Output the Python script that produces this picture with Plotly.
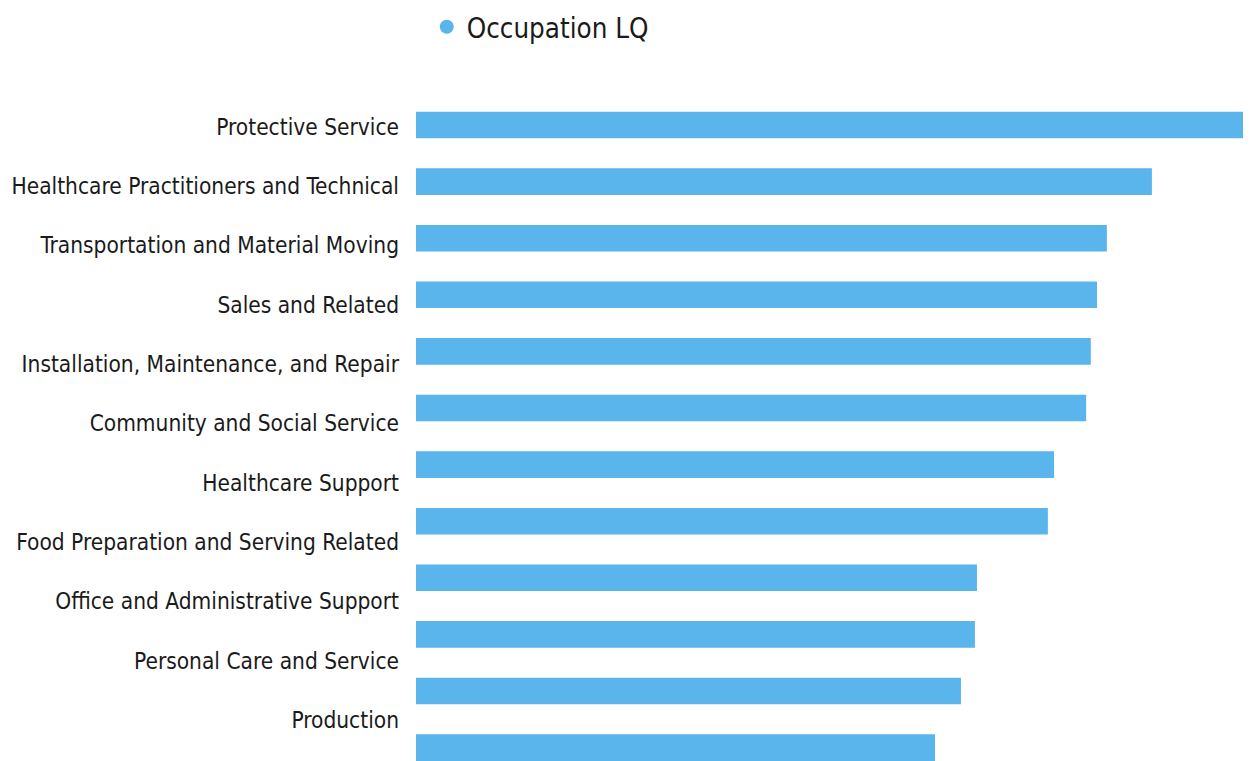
import plotly.graph_objects as go

# Occupation groups (labels as printed in the reference; the 12th bar's label is cut off)
labels = [
    "Protective Service",
    "Healthcare Practitioners and Technical",
    "Transportation and Material Moving",
    "Sales and Related",
    "Installation, Maintenance, and Repair",
    "Community and Social Service",
    "Healthcare Support",
    "Food Preparation and Serving Related",
    "Office and Administrative Support",
    "Personal Care and Service",
    "Production",
]
# Location quotient values
lq_values = [1.600, 1.422, 1.335, 1.316, 1.304, 1.295, 1.233, 1.221, 1.084, 1.080, 1.053, 1.003]
series_name = "Occupation LQ"

bar_color = "#5ab5ec"
label_font = "Liberation Sans Narrow, DejaVu Sans Condensed, Arial Narrow, sans-serif"

positions = list(range(len(lq_values)))
label_positions = list(range(len(labels)))

fig = go.Figure()
fig.add_trace(go.Bar(
    x=lq_values, y=positions, orientation="h",
    marker=dict(color=bar_color, line=dict(width=0)),
    width=0.47, showlegend=False, name=series_name,
))
# legend entry (circle symbol)
fig.add_trace(go.Scatter(
    x=[None], y=[None], mode="markers", name=series_name,
    marker=dict(color=bar_color, size=14, symbol="circle"),
))
# invisible trace carrying the category labels axis
fig.add_trace(go.Scatter(
    x=[0] * len(labels), y=label_positions, yaxis="y2", mode="markers",
    marker=dict(opacity=0), showlegend=False, hoverinfo="skip",
))

# page body has an 8px default margin; figure sized to fit the window
fig.update_layout(
    width=1243, height=753,
    margin=dict(l=408, r=7, t=82, b=0, autoexpand=False),
    paper_bgcolor="white", plot_bgcolor="white",
    xaxis=dict(range=[0, 1.60], visible=False, fixedrange=True, automargin=False),
    yaxis=dict(range=[11.237, -0.618], showticklabels=False, showgrid=False,
               zeroline=False, showline=False, ticks="", automargin=False),
    yaxis2=dict(range=[10.69, -0.624], overlaying="y", side="left",
                tickmode="array", tickvals=label_positions, ticktext=labels,
                showgrid=False, zeroline=False, showline=False, ticks="",
                ticklabelstandoff=16, automargin=False,
                tickfont=dict(family=label_font, size=22.5, color="#1a1a1a")),
    legend=dict(orientation="h", x=0.013, xanchor="left", y=1.094, yanchor="middle",
                font=dict(family=label_font, size=27.5, color="#1a1a1a"),
                itemsizing="trace"),
    bargap=0.5,
)

fig.write_html("out.html")
